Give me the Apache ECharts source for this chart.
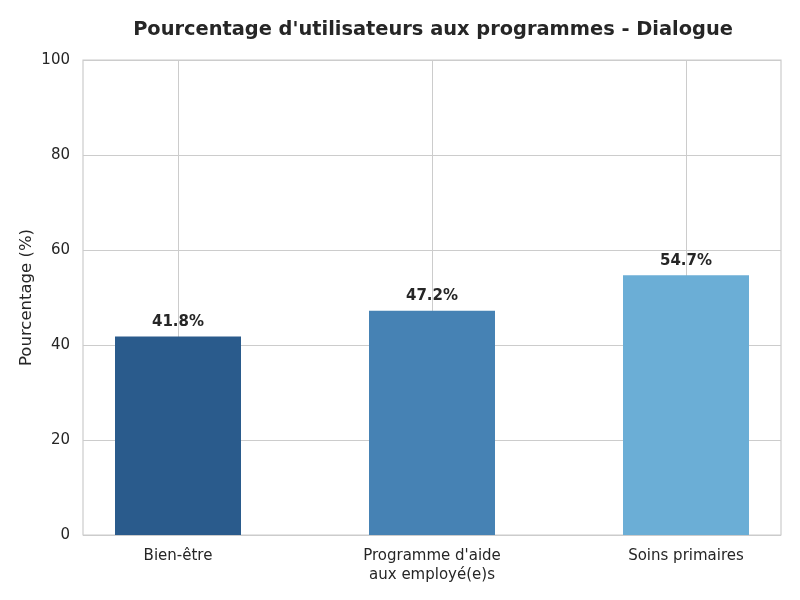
<!DOCTYPE html>
<html>
<head>
<meta charset="utf-8">
<script src="https://cdn.jsdelivr.net/npm/echarts@6/dist/echarts.min.js"></script>
<style>
  html, body { margin: 0; padding: 0; background: #fff; }
  #chart { width: 800px; height: 600px; }
</style>
</head>
<body>
<div id="chart"></div>
<script>
const categories = ['Bien-être', "Programme d'aide\naux employé(e)s", 'Soins primaires']
const values = [41.8, 47.2, 54.7]
const barColors = ['#2a5b8c', '#4682b4', '#6baed6']
const yTicks = [0, 20, 40, 60, 80, 100]

const font = 'DejaVu Sans'
const chart = echarts.init(document.getElementById('chart'))

chart.setOption({
  animation: false,
  textStyle: { fontFamily: font },
  title: {
    text: "Pourcentage d'utilisateurs aux programmes - Dialogue",
    left: 428,
    top: 15,
    textAlign: 'center',
    textStyle: { fontFamily: font, fontSize: 19.4, fontWeight: 'bold', color: '#262626' }
  },
  grid: [
    // frame + y axis
    { left: 83, right: 19, top: 60, bottom: 65, show: true, borderColor: '#cccccc', borderWidth: 1.2 },
    // category positions at the gridline centers
    { left: 178, right: 114, top: 60, bottom: 65 }
  ],
  xAxis: [
    { gridIndex: 0, type: 'value', min: 0, max: 1, show: false },
    {
      gridIndex: 1,
      type: 'category',
      data: categories,
      boundaryGap: false,
      axisLine: { show: false },
      axisTick: { show: false },
      axisLabel: { color: '#262626', fontSize: 15, margin: 12, lineHeight: 19, interval: 0 },
      splitLine: { show: true, lineStyle: { color: '#cccccc', width: 1 } }
    }
  ],
  yAxis: [
    {
      gridIndex: 0,
      type: 'value',
      min: yTicks[0],
      max: yTicks[yTicks.length - 1],
      interval: 20,
      name: 'Pourcentage (%)',
      nameLocation: 'middle',
      nameGap: 48,
      nameMoveOverlap: false,
      nameTextStyle: { fontSize: 16.5, color: '#262626' },
      axisLine: { show: false },
      axisTick: { show: false },
      axisLabel: { color: '#262626', fontSize: 15, margin: 13 },
      splitLine: { show: true, lineStyle: { color: '#cccccc', width: 1 } }
    },
    {
      gridIndex: 1,
      type: 'value',
      min: yTicks[0],
      max: yTicks[yTicks.length - 1],
      show: false
    }
  ],
  series: [{
    type: 'bar',
    xAxisIndex: 1,
    yAxisIndex: 1,
    barWidth: 126,
    data: values.map((v, i) => ({ value: v, itemStyle: { color: barColors[i] } })),
    label: {
      show: true,
      position: 'top',
      distance: 7,
      formatter: p => p.value.toFixed(1) + '%',
      fontFamily: font,
      fontSize: 15,
      fontWeight: 'bold',
      color: '#262626'
    }
  }]
})
</script>
</body>
</html>
